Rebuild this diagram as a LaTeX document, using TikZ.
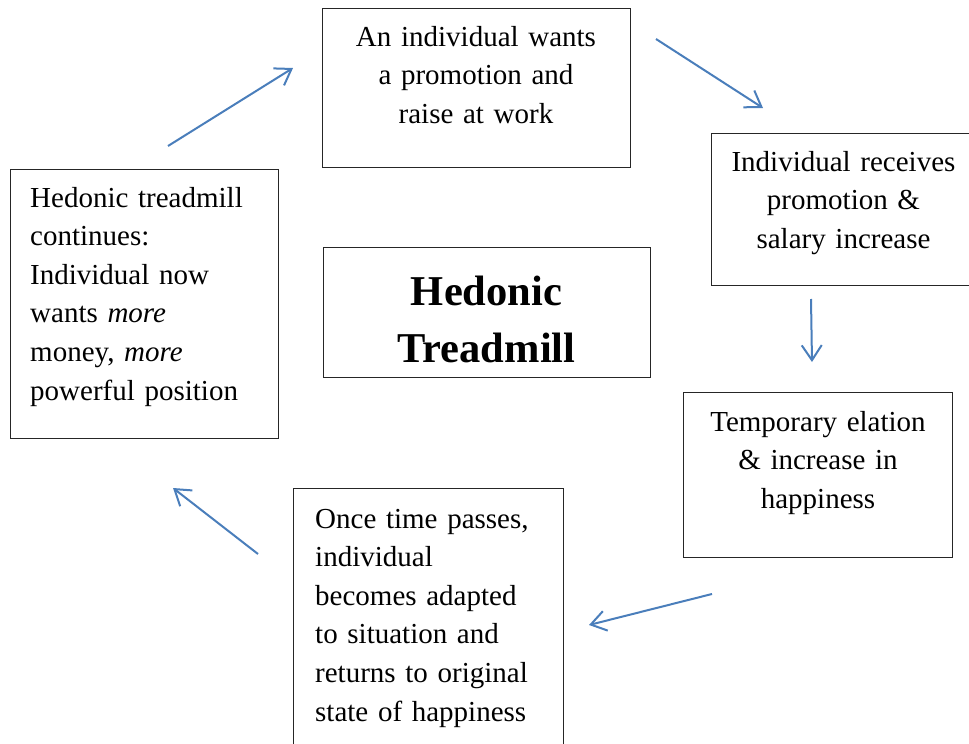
\documentclass[tikz,border=0pt]{standalone}
\usepackage{fontspec}
\setmainfont{Liberation Serif}
\usetikzlibrary{arrows.meta}
\definecolor{arrowblue}{RGB}{74,126,187}
\tikzset{
   box/.style={draw=black!85, line width=1pt, rectangle, inner sep=0pt, anchor=north west},
   txt/.style={inner sep=0pt, font=\fontsize{29}{38.6}\selectfont},
   ttl/.style={inner sep=0pt, font=\fontsize{42.5}{57.7}\selectfont\bfseries},
   arr/.style={arrowblue, line width=2pt, -{Straight Barb[length=15pt,width=20pt]}}
}
\begin{document}
\begin{tikzpicture}[x=1pt, y=-1pt]
   \useasboundingbox (0,0) rectangle (969,744);

   \node (W) [box, minimum width=308pt, minimum height=159pt] at (322,8) {};
   \node (R) [box, minimum width=259pt, minimum height=152pt] at (711,133) {};
   \node (T) [box, minimum width=269pt, minimum height=165pt] at (683,392) {};
   \node (O) [box, minimum width=270pt, minimum height=290pt] at (293,488) {};
   \node (C) [box, minimum width=268pt, minimum height=269pt] at (10,169) {};
   \node (H) [box, minimum width=327pt, minimum height=130pt] at (323,247) {};

   \node (Wt) [txt, text width=290pt, align=center, anchor=base] at (476,46)
      {An individual wants\\a promotion and\\raise at work};
   \node (Rt) [txt, text width=250pt, align=center, anchor=base] at (843.5,171)
      {Individual receives\\promotion \&\\salary increase};
   \node (Tt) [txt, text width=260pt, align=center, anchor=base] at (818,431)
      {Temporary elation\\\& increase in\\happiness};
   \node (Ot) [txt, text width=240pt, align=left, anchor=base west] at (315,528)
      {Once time passes,\\individual\\becomes adapted\\to situation and\\returns to original\\state of happiness};
   \node (Ct) [txt, text width=240pt, align=left, anchor=base west] at (30,207)
      {Hedonic treadmill\\continues:\\Individual now\\wants \textit{more}\\money, \textit{more}\\powerful position};
   \node (Ht) [ttl, text width=310pt, align=center, anchor=base] at (486.5,305)
      {Hedonic\\Treadmill};

   \coordinate (c1) at (168,146);
   \coordinate (w1) at (293,68);
   \coordinate (w2) at (656,39);
   \coordinate (r1) at (763,108);
   \coordinate (r2) at (811,299);
   \coordinate (t1) at (812,362);
   \coordinate (t2) at (712,594);
   \coordinate (o1) at (589,625);
   \coordinate (o2) at (258,554);
   \coordinate (c2) at (173,488);

   \path[arr]
     (c1) edge (w1)
     (w2) edge (r1)
     (r2) edge (t1)
     (t2) edge (o1)
     (o2) edge (c2);
\end{tikzpicture}
\end{document}
